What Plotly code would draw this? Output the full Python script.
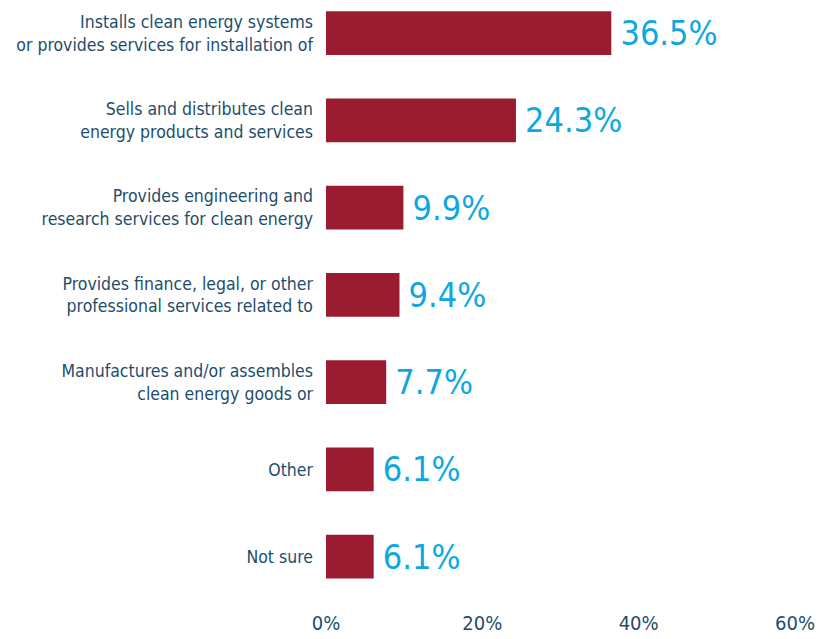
import plotly.graph_objects as go

# Share of respondents by type of clean-energy business activity
categories = [
    "Installs clean energy systems<br>or provides services for installation of",
    "Sells and distributes clean<br>energy products and services",
    "Provides engineering and<br>research services for clean energy",
    "Provides finance, legal, or other<br>professional services related to",
    "Manufactures and/or assembles<br>clean energy goods or",
    "Other",
    "Not sure",
]
shares = [36.5, 24.3, 9.9, 9.4, 7.7, 6.1, 6.1]
tick_values = [0, 20, 40, 60]
tick_labels = ["0%", "20%", "40%", "60%"]

BAR = "#9B1C31"
VALUE_BLUE = "#0FA7DF"
NAVY = "#1E4D6B"
NARROW = "Liberation Sans Narrow, DejaVu Sans Condensed, Arial Narrow, sans-serif"

fig = go.Figure(
    go.Bar(
        x=shares,
        y=categories,
        orientation="h",
        marker=dict(color=BAR, line=dict(width=0)),
        width=0.5,
        texttemplate="\u2009%{x}%",
        textposition="outside",
        textfont=dict(family=NARROW, size=34, color=VALUE_BLUE),
        cliponaxis=False,
        constraintext="none",
    )
)

fig.update_layout(
    width=835,
    height=639,
    margin=dict(l=326, r=40, t=0, b=30, autoexpand=False),
    paper_bgcolor="white",
    plot_bgcolor="white",
    showlegend=False,
    font=dict(family=NARROW, color=NAVY, size=18),
)

fig.update_xaxes(
    range=[0, 60],
    tickvals=tick_values,
    ticktext=tick_labels,
    showgrid=False,
    zeroline=False,
    showline=False,
    ticks="",
    automargin=False,
    tickfont=dict(family=NARROW, size=20, color=NAVY),
)

fig.update_yaxes(
    type="category",
    range=[6.6, -0.38],
    showgrid=False,
    zeroline=False,
    showline=False,
    ticks="",
    automargin=False,
    ticklabelstandoff=12,
    tickfont=dict(family=NARROW, size=17.5, color=NAVY),
)

fig.write_html("out.html")
